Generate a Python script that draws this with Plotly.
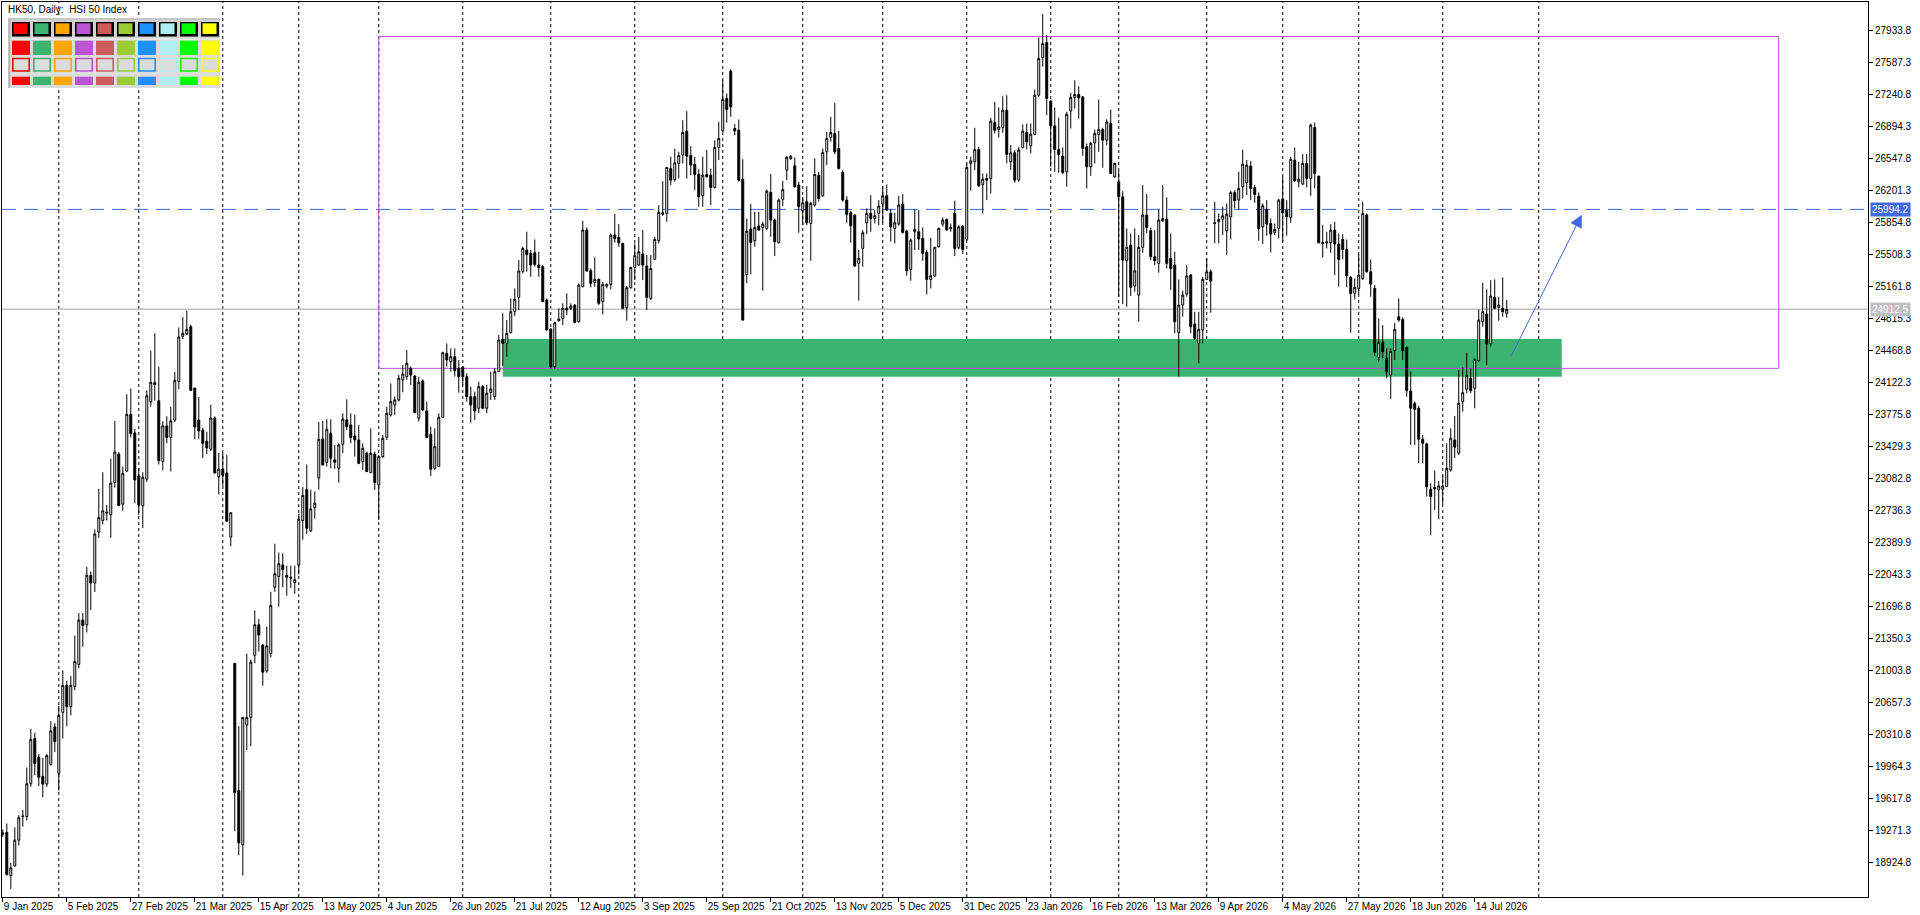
import plotly.graph_objects as go
import pandas as pd

# --- data (HK50 daily, 9 Jan 2025 .. 24 Jul 2026) ---
hk_holidays = ["2025-01-29", "2025-01-30", "2025-01-31", "2025-04-04", "2025-04-18",
               "2025-04-21", "2025-05-01", "2025-05-05", "2025-07-01", "2025-10-01",
               "2025-10-07", "2025-10-29", "2025-12-25", "2025-12-26", "2026-01-01",
               "2026-02-17", "2026-02-18", "2026-02-19", "2026-04-03", "2026-04-06",
               "2026-04-07", "2026-05-01", "2026-05-25", "2026-06-19", "2026-07-01"]

opens = [
    19230, 19248, 18780, 18885, 19165, 19420, 19420, 19775, 20264, 20063,
    19855, 19771, 19984, 20390, 19888, 20548, 20841, 20611, 20829, 21067,
    21547, 21497, 22032, 21949, 22501, 22626, 22705, 22689, 23036, 23345,
    22802, 23161, 23775, 23574, 23107, 22785, 23073, 23909, 24118, 23922,
    23265, 23650, 23525, 23713, 24131, 24620, 24645, 24724, 24060, 23713,
    23604, 23483, 23399, 23734, 23099, 23182, 23140, 22446, 21079, 19700,
    19115, 20411, 20494, 21163, 21497, 21276, 20996, 21184, 21903, 22020,
    22145, 22032, 22011, 21953, 22145, 22626, 22960, 22513, 22764, 23086,
    23509, 23256, 23570, 23282, 23191, 23451, 23715, 23661, 23541, 23498,
    23263, 23354, 23144, 23343, 23011, 23318, 23527, 23769, 23877, 23931,
    24148, 24183, 24274, 24190, 23733, 24136, 23812, 23559, 23191, 23209,
    23743, 24436, 24346, 24400, 24274, 24285, 24183, 23967, 23967, 23841,
    24075, 23841, 24011, 23967, 24237, 24587, 24544, 24659, 24887, 25042,
    25320, 25554, 25518, 25525, 25392, 25374, 25013, 24699, 24291, 24789,
    24814, 24923, 24923, 24956, 24779, 25158, 25771, 25331, 25204, 25237,
    24995, 25164, 25183, 25716, 25691, 25626, 24930, 25146, 25366, 25392,
    25511, 25381, 25031, 25453, 25655, 25958, 25951, 26437, 26318, 26492,
    26582, 26841, 26578, 26481, 26373, 26142, 26373, 26365, 26232, 26665,
    26845, 27195, 27491, 26870, 26852, 26322, 25290, 25781, 25655, 25814,
    25799, 25788, 26178, 25878, 25633, 26102, 26419, 26546, 26466, 26257,
    25979, 26077, 25842, 26041, 26365, 26142, 26618, 26773, 26816, 26654,
    26394, 26095, 25958, 25933, 25410, 25572, 25850, 25951, 25896, 25951,
    26052, 26142, 25951, 25788, 25835, 26052, 25760, 25345, 25752, 25752,
    25680, 25529, 25236, 25272, 25590, 25835, 25886, 25799, 25951, 25579,
    25813, 25669, 26492, 26510, 26643, 26264, 26329, 26329, 26935, 26859,
    26881, 27069, 26510, 26607, 26311, 26665, 26827, 26683, 26805, 27231,
    27639, 27801, 27166, 26899, 26643, 26571, 26401, 27061, 27206, 27238,
    27213, 26672, 26456, 26715, 26805, 26859, 26744, 26924, 26347, 26293,
    26131, 25438, 25608, 25164, 25067, 25583, 25933, 25763, 25482, 25410,
    25871, 25889, 25464, 25391, 24659, 24958, 25078, 25283, 24753, 24544,
    24688, 25236, 25319, 25850, 25860, 25886, 25763, 25915, 26178, 26095,
    26239, 26286, 26463, 26228, 26138, 25806, 25994, 25842, 25745, 25788,
    26106, 25987, 25907, 26528, 26293, 26268, 26492, 26329, 26881, 26355,
    25637, 25644, 25633, 25770, 25619, 25669, 25561, 25258, 25085, 25139,
    25247, 25933, 25319, 25139, 24392, 24555, 24382, 24201, 24465, 24832,
    24803, 24501, 24028, 23895, 23841, 23505, 23455, 22964, 22982, 22957,
    22964, 22993, 23173, 23498, 23354, 23913, 24046, 24165, 24057, 24356,
    24778, 24861, 24537, 25042, 24933, 24923, 24869]

highs = [
    19280, 19345, 18918, 19303, 19436, 19491, 19951, 20369, 20327, 20097,
    20055, 20097, 20452, 20431, 20620, 21004, 20891, 20941, 21380, 21623,
    21623, 22124, 22074, 22530, 22969, 23148, 22793, 23295, 23704, 23366,
    23211, 23993, 24055, 23617, 23190, 23148, 24035, 24465, 24653, 24290,
    23700, 23754, 23859, 24235, 24716, 24829, 24896, 24745, 24060, 23964,
    23629, 23587, 23880, 23754, 23357, 23357, 23337, 22710, 21079, 20398,
    20494, 21184, 21121, 21652, 21560, 21289, 21476, 21853, 22375, 22279,
    22271, 22137, 22137, 22137, 22697, 22990, 23232, 22960, 22940, 23692,
    23704, 23722, 23722, 23444, 23462, 23787, 23938, 23787, 23769, 23660,
    23462, 23372, 23624, 23372, 23336, 23552, 23859, 24111, 23967, 24201,
    24310, 24472, 24292, 24201, 24183, 24154, 23913, 23642, 23624, 23787,
    24454, 24544, 24490, 24490, 24364, 24299, 24219, 24075, 24021, 24129,
    24093, 24093, 24237, 24274, 24634, 24869, 24796, 25031, 25139, 25446,
    25590, 25752, 25554, 25669, 25536, 25392, 25031, 24706, 24778, 24923,
    24977, 25085, 24977, 24970, 25193, 25871, 25799, 25356, 25475, 25247,
    25211, 25193, 25734, 25944, 25835, 25633, 25164, 25374, 25626, 25698,
    25770, 25500, 25500, 25698, 26041, 26300, 26456, 26564, 26654, 26618,
    26960, 27058, 26679, 26564, 26427, 26564, 26636, 26437, 26744, 26942,
    27393, 27249, 27512, 26917, 26968, 26538, 25896, 26052, 25969, 25969,
    25860, 26210, 26376, 25896, 26113, 26304, 26571, 26582, 26557, 26293,
    26131, 26246, 26077, 26546, 26401, 26654, 26834, 26997, 27148, 26845,
    26419, 26138, 25979, 25943, 25554, 25770, 26005, 26149, 25987, 26095,
    26246, 26264, 25994, 25958, 26142, 26160, 25770, 25680, 25994, 25987,
    25799, 25554, 25687, 25590, 25799, 25907, 25896, 25842, 26088, 25824,
    25824, 26492, 26564, 26878, 26672, 26383, 26383, 26986, 27159, 27098,
    27220, 27231, 26690, 26636, 26672, 26914, 26924, 26924, 27292, 27855,
    28107, 27880, 27177, 27098, 26989, 26665, 27051, 27256, 27393, 27328,
    27220, 26708, 26726, 26859, 27184, 26878, 26971, 27076, 26499, 26412,
    26192, 25788, 25734, 25788, 25716, 26257, 26160, 25799, 25770, 25994,
    26257, 26124, 25734, 25536, 25236, 25114, 25391, 25294, 24886, 24886,
    25265, 25464, 25345, 26077, 25951, 26023, 26059, 26196, 26203, 26401,
    26643, 26528, 26517, 26257, 26178, 26059, 26095, 25896, 25842, 26106,
    26347, 26095, 26564, 26665, 26510, 26593, 26593, 26924, 26935, 26355,
    25824, 25752, 25835, 25860, 25734, 25727, 25669, 25272, 25247, 25511,
    26077, 25951, 25453, 25175, 24814, 24742, 24490, 24490, 24767, 25031,
    24825, 24508, 24237, 23913, 23866, 23552, 23469, 23029, 23166, 23054,
    23119, 23462, 23624, 23758, 24255, 24284, 24443, 24273, 24382, 24912,
    25200, 25128, 25229, 25236, 25049, 25258, 25013]

lows = [
    19200, 18780, 18634, 18877, 19106, 19311, 19378, 19742, 19867, 19750,
    19629, 19742, 19972, 20118, 19700, 20264, 20398, 20515, 20787, 21025,
    21259, 21414, 21655, 21852, 22438, 22584, 22626, 22438, 22981, 22780,
    22731, 23148, 23525, 22814, 22689, 22543, 23044, 23859, 23922, 23232,
    23169, 23462, 23157, 23692, 24047, 24591, 24637, 24030, 23504, 23512,
    23303, 23345, 23378, 23135, 22906, 23000, 22618, 22346, 19261, 19002,
    18780, 20139, 20181, 21079, 21205, 20837, 20975, 21142, 21853, 21694,
    21903, 21811, 21894, 21832, 22041, 22417, 22480, 22501, 22647, 22960,
    23220, 23209, 23191, 23184, 23036, 23354, 23606, 23462, 23318, 23235,
    23173, 23155, 23137, 22957, 22632, 23300, 23498, 23751, 23769, 23913,
    24014, 24148, 24093, 23787, 23697, 23812, 23523, 23108, 23173, 23209,
    23740, 24292, 24237, 24183, 24010, 24093, 23913, 23686, 23715, 23787,
    23830, 23787, 23931, 23931, 24237, 24299, 24400, 24652, 24840, 24905,
    25302, 25320, 25266, 25374, 25266, 24995, 24681, 24273, 24263, 24778,
    24742, 24851, 24905, 24760, 24768, 25150, 25320, 25150, 25158, 24959,
    24858, 25139, 25128, 25633, 25590, 24912, 24789, 25139, 25229, 25381,
    25229, 24905, 25013, 25446, 25626, 25925, 25860, 26257, 26293, 26329,
    26492, 26329, 26365, 26203, 26023, 26023, 26340, 26041, 26221, 26528,
    26834, 26932, 26997, 26798, 26293, 24789, 25193, 25290, 25590, 25770,
    25114, 25770, 25698, 25489, 25626, 26030, 26311, 26528, 26232, 25741,
    25824, 25824, 25438, 26023, 26077, 26131, 26474, 26726, 26593, 26427,
    26077, 25850, 25633, 25373, 25006, 25373, 25727, 25752, 25842, 25824,
    25850, 25976, 25644, 25626, 25817, 25734, 25276, 25222, 25554, 25554,
    25438, 25074, 25139, 25265, 25583, 25806, 25770, 25752, 25489, 25565,
    25511, 25655, 26196, 26419, 26239, 25950, 26095, 26167, 26816, 26773,
    26823, 26492, 26419, 26282, 26293, 26654, 26643, 26600, 26798, 27213,
    27538, 27015, 26456, 26401, 26391, 26376, 26239, 26870, 27087, 26978,
    26575, 26221, 26358, 26492, 26618, 26445, 26690, 26383, 26337, 25049,
    24969, 24940, 25056, 25103, 24778, 25525, 25734, 25446, 25391, 25309,
    25860, 25355, 25121, 24652, 24183, 24832, 25049, 24652, 24580, 24328,
    24544, 25229, 24876, 25627, 25626, 25716, 25500, 25669, 26005, 25987,
    26113, 26149, 26095, 26066, 25655, 25619, 25709, 25529, 25716, 25680,
    25644, 25709, 25850, 26293, 26232, 26257, 26232, 26142, 26221, 25626,
    25474, 25572, 25525, 25283, 25157, 25453, 25150, 24659, 25020, 25078,
    25229, 25309, 25049, 24407, 24346, 24382, 24165, 23941, 24364, 24778,
    24364, 23967, 23444, 23444, 23245, 23245, 22885, 22470, 22740, 22639,
    22805, 22986, 23155, 23300, 23336, 23805, 24003, 24003, 23841, 24346,
    24724, 24309, 24508, 24912, 24789, 24832, 24822]

closes = [
    19240, 18793, 18864, 19165, 19407, 19425, 19775, 20256, 19993, 19846,
    19771, 20080, 20348, 20231, 20515, 20841, 20611, 20841, 21100, 21547,
    21489, 22032, 21949, 22479, 22659, 22731, 22715, 23031, 23366, 22789,
    23136, 23775, 23566, 23065, 22793, 23094, 23976, 24122, 24097, 23274,
    23650, 23525, 23704, 24143, 24612, 24653, 24695, 24035, 23638, 23596,
    23462, 23412, 23734, 23140, 23182, 23115, 22618, 22710, 19679, 19136,
    20494, 20494, 21092, 21497, 21385, 20983, 21268, 21706, 22049, 22158,
    22095, 22011, 22003, 21986, 22638, 22898, 22542, 22751, 22814, 23504,
    23227, 23613, 23300, 23256, 23444, 23725, 23643, 23524, 23498, 23245,
    23408, 23155, 23354, 23036, 23318, 23516, 23787, 23913, 23931, 24165,
    24212, 24328, 24201, 23794, 24122, 23823, 23523, 23181, 23426, 23743,
    24443, 24364, 24400, 24248, 24183, 24183, 23967, 23877, 23812, 24075,
    23841, 24003, 24050, 24237, 24580, 24544, 24652, 24887, 25020, 25327,
    25572, 25507, 25392, 25399, 25363, 24995, 24688, 24291, 24768, 24807,
    24923, 24905, 24948, 24771, 25176, 25771, 25327, 25193, 25237, 24977,
    25183, 25183, 25716, 25680, 25633, 24923, 25146, 25366, 25493, 25536,
    25391, 25042, 25355, 25669, 25961, 25943, 26448, 26311, 26499, 26578,
    26827, 26571, 26474, 26373, 26131, 26365, 26347, 26232, 26665, 26762,
    27184, 27076, 27105, 26845, 26311, 24796, 25760, 25637, 25799, 25770,
    25835, 26192, 25878, 25644, 26095, 26210, 26557, 26571, 26239, 26023,
    26066, 25850, 26059, 26372, 26113, 26611, 26762, 26827, 26618, 26437,
    26095, 25940, 25817, 25381, 25464, 25741, 25951, 25896, 25925, 26030,
    26142, 25987, 25806, 25850, 26041, 25745, 25330, 25662, 25777, 25673,
    25518, 25236, 25276, 25583, 25788, 25878, 25770, 25788, 25572, 25806,
    25561, 26448, 26520, 26643, 26250, 26322, 26311, 26950, 26852, 26888,
    27069, 26589, 26607, 26311, 26636, 26841, 26726, 26809, 27231, 27628,
    27790, 27195, 26899, 26643, 26589, 26394, 27025, 27206, 27238, 27202,
    26654, 26456, 26708, 26816, 26859, 26744, 26942, 26383, 26492, 26131,
    25446, 25583, 25150, 25330, 25583, 25933, 25799, 25482, 25438, 25878,
    25896, 25410, 25355, 24778, 24958, 25067, 25273, 24724, 24598, 24695,
    25236, 25319, 25218, 25842, 25886, 25925, 25943, 26178, 26088, 26221,
    26484, 26474, 26221, 26156, 25788, 26034, 25835, 25727, 25777, 26095,
    25958, 25915, 26535, 26304, 26322, 26492, 26329, 26907, 26383, 25633,
    25626, 25633, 25770, 25619, 25453, 25561, 25276, 25085, 25150, 25283,
    25951, 25319, 25186, 24447, 24555, 24454, 24237, 24454, 24695, 24796,
    24465, 24032, 23841, 23830, 23505, 23462, 22993, 22885, 22968, 23000,
    23000, 23191, 23516, 23419, 23895, 24010, 24194, 24032, 24371, 24797,
    24887, 24537, 25056, 24923, 24959, 24887, 24912]

price_ticks = ["18924.8", "19271.3", "19617.8", "19964.3", "20310.8", "20657.3",
               "21003.8", "21350.3", "21696.8", "22043.3", "22389.9", "22736.3",
               "23082.8", "23429.3", "23775.8", "24122.3", "24468.8", "24815.3",
               "25161.8", "25508.3", "25854.8", "26201.3", "26547.8", "26894.3",
               "27240.8", "27587.3", "27933.8"]

# drawn objects (bar offsets from the first bar, prices)
target_level = 25994.2
last_price = 24912.5
zone_start, zone_end, zone_low, zone_high = 125, 389.75, 24183, 24591
box_start, box_end, box_low, box_high = 94, 444, 24273, 27866
arrow_from = (377, 24395)
arrow_to = (394.75, 25937)

palette = ["#FF0000", "#3CB371", "#FFA500", "#BA55D3", "#CD5C5C",
           "#9ACD32", "#1E90FF", "#AFEEEE", "#00FF00", "#FFFF00"]

n_bars = len(closes)
dates = pd.bdate_range("2025-01-09", periods=n_bars, freq="C", holidays=hk_holidays)
bars = list(range(n_bars))

tick_idx = list(range(0, n_bars, 16))
tick_txt = [f"{dates[i].day} {dates[i].strftime('%b %Y')}" for i in tick_idx]

# monthly separators (future ones counted in calendar days, like the terminal does)
sep_x = [i for i in range(1, n_bars) if dates[i].month != dates[i - 1].month]
sep_x.append(n_bars - 1 + (pd.Timestamp("2026-08-01") - dates[-1]).days)

W, H = 1920, 915
PL, PR, PT, PB = 2, 1868, 2, 897
FONT = "Liberation Sans"


def fx(p):
    return (p - PL) / (PR - PL)


def fy(p):
    return 1 - (p - PT) / (PB - PT)


fig = go.Figure()

fig.add_trace(go.Candlestick(
    x=bars, open=opens, high=highs, low=lows, close=closes,
    increasing=dict(fillcolor="white", line=dict(color="black", width=1)),
    decreasing=dict(fillcolor="black", line=dict(color="black", width=1)),
    whiskerwidth=0,
    hovertext=[d.strftime("%d %b %Y") for d in dates],
    showlegend=False,
))

shapes = []
# demand zone
shapes.append(dict(type="rect", xref="x", yref="y", x0=zone_start, x1=zone_end,
                   y0=zone_low, y1=zone_high, fillcolor="#3CB371", line_width=0, layer="below"))
# month separators
for s in sep_x:
    shapes.append(dict(type="line", xref="x", yref="paper", x0=s, x1=s, y0=0, y1=1,
                       line=dict(color="black", width=1, dash="3px,3px"), layer="below"))
# range box
shapes.append(dict(type="rect", xref="x", yref="y", x0=box_start, x1=box_end,
                   y0=box_low, y1=box_high, line=dict(color="#BA55D3", width=1), layer="below"))
# last price + target lines
shapes.append(dict(type="line", xref="paper", yref="y", x0=0, x1=1, y0=last_price, y1=last_price,
                   line=dict(color="#C0C0C0", width=1.5), layer="below"))
shapes.append(dict(type="line", xref="paper", yref="y", x0=0, x1=1, y0=target_level, y1=target_level,
                   line=dict(color="#4169E1", width=1, dash="14px,8px"), layer="below"))

# colour picker panel (top left)
def prect(x0, y0, x1, y1, **kw):
    d = dict(type="rect", xref="paper", yref="paper",
             x0=fx(x0), x1=fx(x1), y0=fy(y1), y1=fy(y0), layer="above")
    d.update(kw)
    return d


shapes.append(prect(8.3, 18.3, 220, 88, fillcolor="#DCDCDC", line_width=0))
shapes.append(prect(8.3, 18.3, 220, 38.5, fillcolor="#D2D2D2", line_width=0))
shapes.append(prect(8.3, 38.5, 220, 39.5, fillcolor="#F0F0F0", line_width=0))
shapes.append(prect(8.3, 18.3, 10.3, 88, fillcolor="#B4B4B4", line_width=0))
shapes.append(prect(8.3, 18.3, 220, 19.8, fillcolor="#C0C0C0", line_width=0))
for k, c in enumerate(palette):
    x0 = 12 + 21 * k
    shapes.append(prect(x0, 22, x0 + 18, 36.5, fillcolor="black", line_width=0))
    shapes.append(prect(x0 + 1.5, 23.3, x0 + 15.5, 34, fillcolor=c, line_width=0))
    shapes.append(prect(x0, 40.7, x0 + 18, 55, fillcolor=c, line_width=0))
    shapes.append(prect(x0 + 0.8, 58.5, x0 + 17.2, 71, fillcolor="#DCDCDC",
                        line=dict(color=c, width=1.6)))
    shapes.append(prect(x0, 76.7, x0 + 18, 85, fillcolor=c, line_width=0))

annotations = [
    dict(xref="paper", yref="paper", x=fx(6), y=fy(9.5), xanchor="left", yanchor="middle",
         text="HK50, Daily:\u00a0\u00a0HSI 50 Index", showarrow=False,
         font=dict(family=FONT, size=10, color="black")),
    dict(xref="paper", yref="y", x=fx(1870), y=target_level, xanchor="left", yanchor="middle",
         text="25994.2", showarrow=False, bgcolor="#4169E1", borderpad=1,
         font=dict(family=FONT, size=10, color="white")),
    dict(xref="paper", yref="y", x=fx(1870), y=last_price, xanchor="left", yanchor="middle",
         text="24912.5", showarrow=False, bgcolor="#C0C0C0", borderpad=1,
         font=dict(family=FONT, size=10, color="white")),
    dict(xref="x", yref="y", axref="x", ayref="y",
         x=arrow_to[0], y=arrow_to[1], ax=arrow_from[0], ay=arrow_from[1],
         text="", showarrow=True, arrowhead=2, arrowsize=2.5, arrowwidth=1,
         arrowcolor="#4169E1"),
]

fig.update_layout(
    width=W, height=H,
    margin=dict(l=PL, r=W - PR, t=PT, b=H - PB, pad=0),
    paper_bgcolor="white", plot_bgcolor="white",
    font=dict(family=FONT, size=10, color="black"),
    shapes=shapes, annotations=annotations,
    showlegend=False,
    xaxis=dict(
        range=[-0.2, (PR - 2.7) / 4], rangeslider=dict(visible=False),
        tickmode="array", tickvals=tick_idx, ticktext=tick_txt,
        ticks="outside", ticklen=4, tickcolor="black", tickangle=0,
        ticklabelposition="outside right", automargin=False,
        showline=True, linecolor="black", linewidth=1, mirror=True,
        showgrid=False, zeroline=False,
        tickfont=dict(family=FONT, size=10, color="black"),
    ),
    yaxis=dict(
        side="right", range=[18549, 28240], automargin=False,
        tickmode="array", tickvals=[float(t) for t in price_ticks], ticktext=price_ticks,
        ticks="outside", ticklen=4, tickcolor="black",
        showline=True, linecolor="black", linewidth=1, mirror=True,
        showgrid=False, zeroline=False,
        tickfont=dict(family=FONT, size=10, color="black"),
    ),
)

fig.write_html("out.html", config={"displayModeBar": False},
               post_script="document.body.style.margin='0';")
